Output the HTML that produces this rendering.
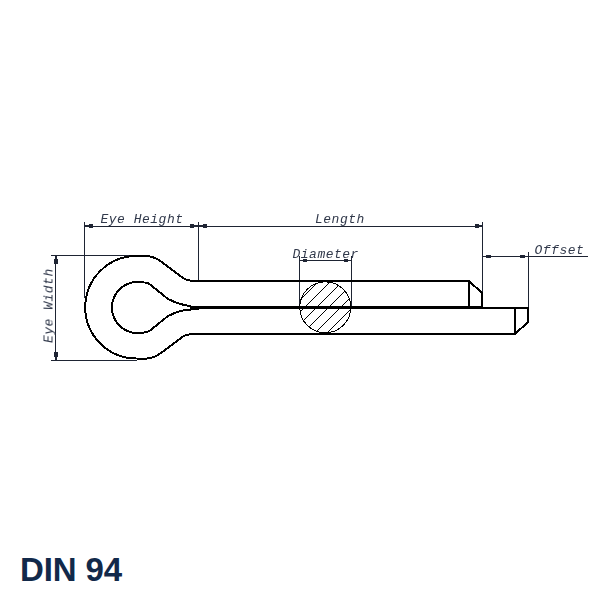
<!DOCTYPE html>
<html><head><meta charset="utf-8">
<style>
html,body{margin:0;padding:0;background:#fff;width:601px;height:600px;overflow:hidden}
svg{position:absolute;left:0;top:0}
.dim{stroke:#1e2433;stroke-width:1;fill:none}
.arr{fill:#1e2433}
.pin{stroke:#000;stroke-width:2;fill:none;stroke-linejoin:miter;shape-rendering:crispEdges}
.t{font-family:"Liberation Mono",monospace;font-style:italic;font-size:13px;fill:#2f3749;letter-spacing:0.5px}
.tg{opacity:0.99}
.title{position:absolute;left:20px;top:551px;font-family:"Liberation Sans",sans-serif;font-weight:bold;font-size:33px;line-height:38px;color:#12294a;letter-spacing:-0.1px}
</style></head>
<body>
<svg width="601" height="600" viewBox="0 0 601 600">
  <!-- dimension / extension lines -->
  <g class="dim">
    <!-- Eye Height / Length -->
    <path d="M84.5 222V298"/>
    <path d="M198.5 222V280"/>
    <path d="M482.5 222V293"/>
    <path d="M84 226.5H482"/>
    <!-- Eye Width -->
    <path d="M51 255.5H135"/>
    <path d="M51 360.5H137"/>
    <path d="M55.5 255V360"/>
    <!-- Diameter -->
    <path d="M299.5 256V306"/>
    <path d="M351.5 256V306"/>
    <path d="M299 260.5H352"/>
    <!-- Offset -->
    <path d="M483 256.5H588"/>
    <path d="M528.5 252V307"/>
    <!-- hatch circle -->
    <circle cx="325.25" cy="307.3" r="25.5" stroke="#000" shape-rendering="crispEdges"/>
  </g>
  <!-- hatching -->
  <clipPath id="c"><circle cx="325.25" cy="307.3" r="25.5"/></clipPath>
  <g clip-path="url(#c)" stroke="#000" stroke-width="1" shape-rendering="crispEdges">
    <path d="M600 0L0 600M612 0L0 612M624 0L0 624M636 0L0 636M648 0L0 648M660 0L0 660"/>
  </g>
  <!-- arrows -->
  <g class="arr">
    <!-- Eye height left (points left at 84) -->
    <rect x="89" y="224" width="4" height="4"/><rect x="85" y="225" width="4" height="2"/>
    <rect x="190" y="224" width="4" height="4"/><rect x="194" y="225" width="4" height="2"/>
    <rect x="203" y="224" width="4" height="4"/><rect x="199" y="225" width="4" height="2"/>
    <rect x="475" y="224" width="4" height="4"/><rect x="479" y="225" width="3" height="2"/>
    <!-- offset -->
    <rect x="486" y="255" width="5" height="3"/>
    <rect x="520" y="255" width="5" height="3"/>
    <!-- diameter -->
    <rect x="303" y="259" width="4" height="3"/>
    <rect x="344" y="259" width="4" height="3"/>
    <!-- eye width -->
    <rect x="54" y="259" width="4" height="5"/><rect x="55" y="256" width="2" height="3"/>
    <rect x="54" y="352" width="4" height="5"/><rect x="55" y="357" width="2" height="3"/>
  </g>
  <!-- pin outline -->
  <g class="pin">
    <!-- outer eye + top leg + bottom leg -->
    <path d="M469 281H196C190 281 186 280 183 278L163 263C158 259 154 256.5 147 256H136.5A51.25 51.25 0 0 0 136.5 358.5H147C154 358 158 355.5 163 351.5L183 336.5C186 334.5 190 334 196 334H515"/>
    <!-- top leg end -->
    <path d="M469 281V307M469 281L482 293V307"/>
    <!-- bottom leg end -->
    <path d="M515 334V308M515 334L528 322V307"/>
    <!-- inner teardrop -->
    <path d="M191 306C183 305.5 175 302.5 168 299L150 284.5Q147 282 137.5 282A25.5 25.5 0 0 0 137.5 333Q147 333 150 330.5L168 316C175 312.5 183 309.5 191 309.5"/>
  </g>
  <path d="M190 307.5H482" stroke="#000" stroke-width="3"/>
  <path d="M190 308H199" stroke="#000" stroke-width="4"/>
  <path d="M482 308H528" stroke="#000" stroke-width="2"/>
  <!-- labels -->
  <g class="tg">
  <text class="t" x="100.5" y="223">Eye Height</text>
  <text class="t" x="315" y="223">Length</text>
  <text class="t" x="292.5" y="257.5">Diameter</text>
  <text class="t" x="534.5" y="253.5">Offset</text>
  <text class="t" transform="translate(52.5 343) rotate(-90)">Eye Width</text>
</g>
</svg>
<div class="title">DIN 94</div>
</body></html>
